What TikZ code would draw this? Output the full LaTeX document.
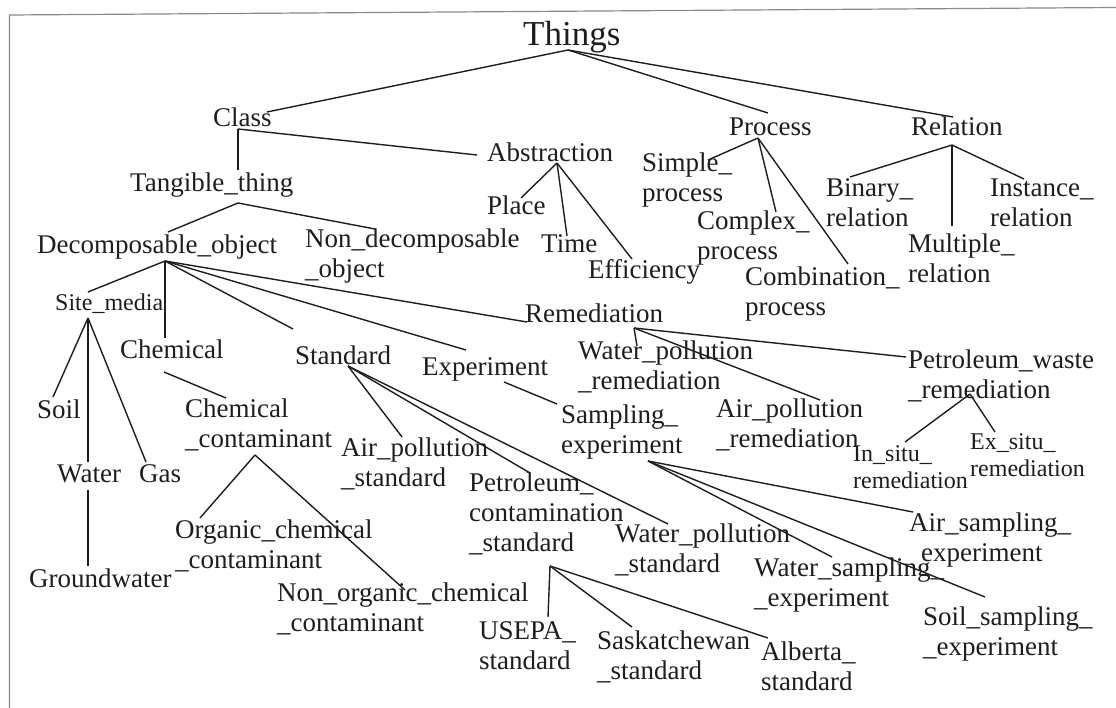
\documentclass[tikz,border=0pt]{standalone}
\usepackage{fontspec}
\setmainfont{Liberation Serif}
\definecolor{ink}{HTML}{1E1E1E}
\definecolor{rule}{HTML}{8A8A8A}
\begin{document}
\begin{tikzpicture}[x=1pt,y=-1pt,
  lbl/.style={anchor=base west, inner sep=0pt, align=left, text=ink,
              font=\fontsize{27}{30}\selectfont},
  sml/.style={lbl, font=\fontsize{24}{27}\selectfont},
  link/.style={draw=ink, line width=1.4pt},
  frame/.style={draw=rule, line width=1.2pt}]
\useasboundingbox (0,0) rectangle (1116,708);
\fill[white] (0,0) rectangle (1116,708);
\draw[frame] (9.5,708) -- (9.5,15) -- (1116,7.5);

% ---- labels (multi-line labels sit on the baseline of their last line) ----
\node[lbl, font=\fontsize{35}{38}\selectfont] (things) at (523,46) {Things};
\node[lbl] (class)       at (213,127) {Class};
\node[lbl] (abstraction) at (487,162) {Abstraction};
\node[lbl] (process)     at (729,136) {Process};
\node[lbl] (relation)    at (911,136) {Relation};
\node[lbl] (tangible)    at (130,192) {Tangible\_thing};
\node[lbl] (place)       at (487,215) {Place};
\node[lbl] (time)        at (541,253) {Time};
\node[lbl] (efficiency)  at (588,279) {Efficiency};
\node[lbl] (simple)      at (642,202) {Simple\_\\process};
\node[lbl] (complex)     at (697,260) {Complex\_\\process};
\node[lbl] (combination) at (745,316) {Combination\_\\process};
\node[lbl] (binary)      at (826,227) {Binary\_\\relation};
\node[lbl] (instance)    at (990,227) {Instance\_\\relation};
\node[lbl] (multiple)    at (908,283) {Multiple\_\\relation};
\node[lbl] (decomp)      at (37,254)  {Decomposable\_object};
\node[lbl] (nondecomp)   at (305,278) {Non\_decomposable\\\_object};
\node[sml] (site)        at (55,311)  {Site\_media};
\node[lbl] (chemical)    at (120,359) {Chemical};
\node[lbl] (standard)    at (295,364) {Standard};
\node[lbl] (experiment)  at (422,375) {Experiment};
\node[lbl] (remediation) at (525,323) {Remediation};
\node[lbl] (waterrem)    at (578,389) {Water\_pollution\\\_remediation};
\node[lbl] (petrolrem)   at (908,398) {Petroleum\_waste\\\_remediation};
\node[lbl] (soil)        at (37,418)  {Soil};
\node[lbl] (chemcont)    at (185,447) {Chemical\\\_contaminant};
\node[lbl] (airstd)      at (341,486) {Air\_pollution\\\_standard};
\node[lbl] (sampling)    at (561,453) {Sampling\_\\experiment};
\node[lbl] (airrem)      at (716,447) {Air\_pollution\\\_remediation};
\node[sml] (insitu)      at (853,488) {In\_situ\_\\remediation};
\node[sml] (exsitu)      at (970,476) {Ex\_situ\_\\remediation};
\node[lbl] (water)       at (57,482)  {Water};
\node[lbl] (gas)         at (139,482) {Gas};
\node[lbl] (petrolstd)   at (469,551) {Petroleum\_\\contamination\\\_standard};
\node[lbl] (organic)     at (175,568) {Organic\_chemical\\\_contaminant};
\node[lbl] (waterstd)    at (615,572) {Water\_pollution\\\_standard};
\node[lbl] (groundwater) at (29,587)  {Groundwater};
\node[lbl] (airsamp)     at (909,561) {Air\_sampling\_\\\hspace*{12pt}experiment};
\node[lbl] (watersamp)   at (754,606) {Water\_sampling\_\\\_experiment};
\node[lbl] (nonorganic)  at (277,631) {Non\_organic\_chemical\\\_contaminant};
\node[lbl] (soilsamp)    at (923,655) {Soil\_sampling\_\\\_experiment};
\node[lbl] (usepa)       at (479,669) {USEPA\_\\standard};
\node[lbl] (sask)        at (597,679) {Saskatchewan\\\_standard};
\node[lbl] (alberta)     at (761,690) {Alberta\_\\standard};

% ---- branching points under each parent ----
\coordinate (things-j)      at (568,50);
\coordinate (class-j)       at (238,129);
\coordinate (abstraction-j) at (557,163);
\coordinate (process-j)     at (758,138);
\coordinate (relation-j)    at (952,145);
\coordinate (tangible-j)    at (238,203);
\coordinate (decomp-j)      at (165,261);
\coordinate (site-j)        at (88,318);
\coordinate (water-j)       at (88,490);
\coordinate (chemical-j)    at (164,372);
\coordinate (chemcont-j)    at (255,455);
\coordinate (standard-j)    at (348,366);
\coordinate (experiment-j)  at (504,382);
\coordinate (remediation-j) at (634,328);
\coordinate (petrolrem-j)   at (970,394);
\coordinate (sampling-j)    at (648,461);
\coordinate (petrolstd-j)   at (550,566);

% ---- entry points on each child ----
\coordinate (class-e)       at (267,112);
\coordinate (process-e)     at (768,113);
\coordinate (relation-e)    at (953,117);
\coordinate (tangible-e)    at (238,170);
\coordinate (abstraction-e) at (477,155);
\coordinate (place-e)       at (521,198);
\coordinate (time-e)        at (567,236);
\coordinate (efficiency-e)  at (632,259);
\coordinate (simple-e)      at (708,160);
\coordinate (complex-e)     at (776,212);
\coordinate (combination-e) at (848,264);
\coordinate (binary-e)      at (850,177);
\coordinate (multiple-e)    at (952,226);
\coordinate (instance-e)    at (1024,179);
\coordinate (decomp-e)      at (168,232);
\coordinate (nondecomp-e)   at (375,229);
\coordinate (site-e)        at (88,292);
\coordinate (chemical-e)    at (165,338);
\coordinate (standard-e)    at (293,329);
\coordinate (experiment-e)  at (466,350);
\coordinate (remediation-e) at (527,322);
\coordinate (soil-e)        at (53,397);
\coordinate (water-e)       at (88,462);
\coordinate (gas-e)         at (146,462);
\coordinate (groundwater-e) at (88,566);
\coordinate (chemcont-e)    at (226,398);
\coordinate (organic-e)     at (200,518);
\coordinate (nonorganic-e)  at (405,590);
\coordinate (airstd-e)      at (402,437);
\coordinate (petrolstd-e)   at (530,473);
\coordinate (waterstd-e)    at (668,524);
\coordinate (sampling-e)    at (557,404);
\coordinate (waterrem-e)    at (637,346);
\coordinate (airrem-e)      at (820,400);
\coordinate (petrolrem-e)   at (906,357);
\coordinate (insitu-e)      at (905,442);
\coordinate (exsitu-e)      at (995,432);
\coordinate (airsamp-e)     at (913,512);
\coordinate (watersamp-e)   at (832,557);
\coordinate (soilsamp-e)    at (985,597);
\coordinate (usepa-e)       at (548,617);
\coordinate (sask-e)        at (632,627);
\coordinate (alberta-e)     at (768,638);

% ---- connectors ----
\foreach \p/\c in {things/class, things/process, things/relation,
                   class/tangible, class/abstraction,
                   abstraction/place, abstraction/time, abstraction/efficiency,
                   process/simple, process/complex, process/combination,
                   relation/binary, relation/multiple, relation/instance,
                   tangible/decomp, tangible/nondecomp,
                   decomp/site, decomp/chemical, decomp/standard,
                   decomp/experiment, decomp/remediation,
                   site/soil, site/water, site/gas, water/groundwater,
                   chemical/chemcont, chemcont/organic, chemcont/nonorganic,
                   standard/airstd, standard/petrolstd, standard/waterstd,
                   experiment/sampling,
                   remediation/waterrem, remediation/airrem, remediation/petrolrem,
                   petrolrem/insitu, petrolrem/exsitu,
                   sampling/airsamp, sampling/watersamp, sampling/soilsamp,
                   petrolstd/usepa, petrolstd/sask, petrolstd/alberta}
  \draw[link] (\p-j) -- (\c-e);
\end{tikzpicture}
\end{document}
